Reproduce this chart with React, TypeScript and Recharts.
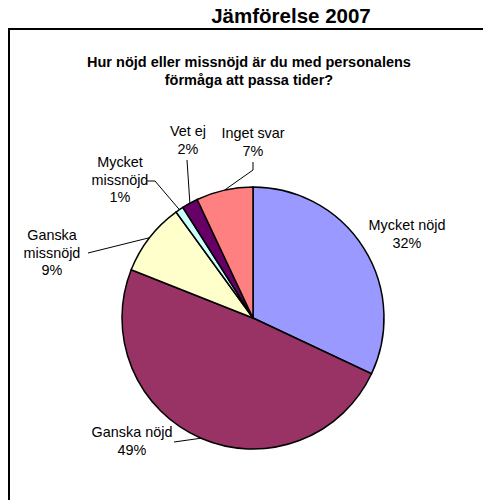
import { PieChart, Pie, Cell } from 'recharts';

const categories = ['Mycket nöjd', 'Ganska nöjd', 'Ganska missnöjd', 'Mycket missnöjd', 'Vet ej', 'Inget svar'];
const shares = [32, 49, 9, 1, 2, 7];
const colors = ['#9999FF', '#993366', '#FFFFCC', '#CCFFFF', '#660066', '#FF8080'];
// which labels Excel wrapped onto two lines
const wrapped = ['Ganska missnöjd', 'Mycket missnöjd'];

const title = 'Jämförelse 2007';
const subtitle = ['Hur nöjd eller missnöjd är du med personalens', 'förmåga att passa tider?'];

// hand-placed label boxes (centre of first line) and leader line bends, like the original
const labelSpots: { x: number; y: number; line?: number[][] }[] = [
  { x: 407, y: 225 },
  { x: 132, y: 432, line: [[174, 442]] },
  { x: 52, y: 235, line: [[88, 253]] },
  { x: 120, y: 162, line: [[147, 181], [155, 181]] },
  { x: 188, y: 131, line: [[187, 160]] },
  { x: 253, y: 133, line: [[253, 162], [253, 170]] },
];

const data = categories.map((name, i) => ({ name, value: shares[i] }));
const RAD = Math.PI / 180;
const font = '"Liberation Sans", Arial, sans-serif';

const renderLabel = (props: any) => {
  const { cx, cy, midAngle, outerRadius, index, name, value } = props;
  const spot = labelSpots[index];
  const lines = wrapped.includes(name) ? name.split(' ') : [name];
  lines.push(`${value}%`);
  const ax = cx + outerRadius * Math.cos(-midAngle * RAD);
  const ay = cy + outerRadius * Math.sin(-midAngle * RAD);
  const pts = spot.line ? [...spot.line, [ax, ay]] : null;
  return (
    <g key={`lbl-${index}`}>
      {pts && (
        <polyline
          points={pts.map((p) => p.join(',')).join(' ')}
          fill="none"
          stroke="#000"
          strokeWidth={1}
        />
      )}
      <text
        x={spot.x}
        y={spot.y}
        textAnchor="middle"
        fontFamily={font}
        fontSize={14.4}
        fill="#000"
      >
        {lines.map((t: string, j: number) => (
          <tspan key={j} x={spot.x} dy={j === 0 ? 5 : 17.5}>
            {t}
          </tspan>
        ))}
      </text>
    </g>
  );
};

export default function App() {
  return (
    <div style={{ position: 'absolute', left: 0, top: 0, width: 483, height: 500, background: '#fff', overflow: 'hidden' }}>
      <div
        style={{
          position: 'absolute',
          left: 0,
          top: 4,
          width: 582,
          textAlign: 'center',
          fontFamily: font,
          fontWeight: 'bold',
          fontSize: 20.5,
          lineHeight: '24px',
        }}
      >
        {title}
      </div>
      <div
        style={{
          position: 'absolute',
          left: 8,
          top: 28,
          width: 500,
          height: 500,
          borderLeft: '2px solid #000',
          borderTop: '2px solid #000',
        }}
      />
      <div
        style={{
          position: 'absolute',
          left: 0,
          top: 53,
          width: 498,
          textAlign: 'center',
          fontFamily: font,
          fontWeight: 'bold',
          fontSize: 14.5,
          lineHeight: '18px',
        }}
      >
        {subtitle.map((s) => (
          <div key={s}>{s}</div>
        ))}
      </div>
      <div style={{ position: 'absolute', left: 0, top: 0 }}>
        <PieChart width={483} height={500} margin={{ top: 0, right: 0, bottom: 0, left: 0 }}>
          <Pie
            data={data}
            dataKey="value"
            nameKey="name"
            cx={253}
            cy={318}
            outerRadius={131}
            startAngle={90}
            endAngle={-270}
            stroke="#000"
            strokeWidth={1.5}
            label={renderLabel}
            labelLine={false}
            isAnimationActive={false}
          >
            {data.map((d, i) => (
              <Cell key={d.name} fill={colors[i]} />
            ))}
          </Pie>
        </PieChart>
      </div>
    </div>
  );
}
